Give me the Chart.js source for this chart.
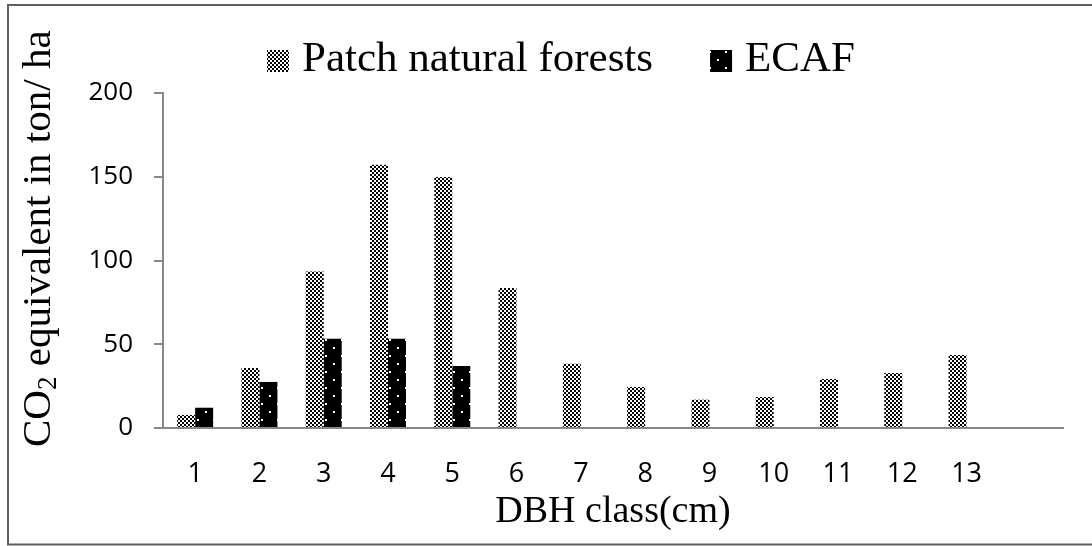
<!DOCTYPE html>
<html>
<head>
<meta charset="utf-8">
<script src="https://cdn.jsdelivr.net/npm/chart.js@4.4.1/dist/chart.umd.min.js"></script>
<style>
  html, body { margin: 0; padding: 0; background: #fff; overflow: hidden; }
  canvas { display: block; }
</style>
</head>
<body>
<canvas id="co2Chart" width="1092" height="546"></canvas>
<script>
// data
const dbhClasses = ['1', '2', '3', '4', '5', '6', '7', '8', '9', '10', '11', '12', '13', ''];
const patchForest = [7.8, 35.8, 93.5, 157.2, 149.9, 83.6, 38.4, 24.5, 16.9, 18.5, 29.3, 32.8, 43.6, null];
const ecaf = [12.1, 27.5, 53.3, 53.3, 37, null, null, null, null, null, null, null, null, null];
const yTicks = [0, 50, 100, 150, 200];
const seriesNames = ['Patch natural forests', 'ECAF'];
const yTitleParts = ['CO', '2', ' equivalent in ton/ ha'];
const xTitle = 'DBH class(cm)';

const axisGray = '#878787';
const serif = '"Liberation Serif", "Times New Roman", serif';
const sans = '"Open Sans", sans-serif';

// fill patterns like the excel ones
function checkerPattern() {
    const c = document.createElement('canvas');
    c.width = 4; c.height = 4;
    const g = c.getContext('2d');
    g.fillStyle = '#fff';
    g.fillRect(0, 0, 4, 4);
    g.fillStyle = '#000';
    g.fillRect(0, 0, 2, 2);
    g.fillRect(2, 2, 2, 2);
    return g.createPattern(c, 'repeat');
}

function dottedBlackPattern() {
    const c = document.createElement('canvas');
    c.width = 16; c.height = 16;
    const g = c.getContext('2d');
    g.fillStyle = '#000';
    g.fillRect(0, 0, 16, 16);
    g.fillStyle = '#fff';
    g.fillRect(5, 3, 2, 2);
    g.fillRect(13, 11, 2, 2);
    return g.createPattern(c, 'repeat');
}

const patchFill = checkerPattern();
const ecafFill = dottedBlackPattern();

// frame, legend and rotated y title (with a real subscript)
const decorations = {
    id: 'decorations',
    afterDraw(chart) {
        const ctx = chart.ctx;
        ctx.save();

        // outer frame (right side is off the picture)
        ctx.strokeStyle = '#5f5f5f';
        ctx.lineWidth = 2;
        ctx.beginPath();
        ctx.moveTo(1100, 5);
        ctx.lineTo(8, 5);
        ctx.lineTo(8, 544.5);
        ctx.lineTo(1100, 544.5);
        ctx.stroke();

        // legend
        ctx.font = '43px ' + serif;
        ctx.fillStyle = '#000';
        ctx.textBaseline = 'alphabetic';
        let x = 267;
        const fills = [patchFill, ecafFill];
        seriesNames.forEach((name, i) => {
            ctx.fillStyle = fills[i];
            ctx.fillRect(x, 50, 22, 22);
            ctx.fillStyle = '#000';
            ctx.fillText(name, x + 35, 71);
            x += 35 + ctx.measureText(name).width + 57;
        });

        // y axis title
        ctx.translate(50, 447);
        ctx.rotate(-Math.PI / 2);
        ctx.fillStyle = '#000';
        ctx.font = '41px ' + serif;
        ctx.fillText(yTitleParts[0], 0, 0);
        let w = ctx.measureText(yTitleParts[0]).width;
        ctx.font = '27px ' + serif;
        ctx.fillText(yTitleParts[1], w, 6);
        w += ctx.measureText(yTitleParts[1]).width;
        ctx.font = '41px ' + serif;
        ctx.fillText(yTitleParts[2], w, 0);

        ctx.restore();
    }
};

new Chart(document.getElementById('co2Chart'), {
    type: 'bar',
    data: {
        labels: dbhClasses,
        datasets: [
            {
                label: seriesNames[0],
                data: patchForest,
                backgroundColor: patchFill,
                borderWidth: 0,
                barPercentage: 1,
                categoryPercentage: 0.56
            },
            {
                label: seriesNames[1],
                data: ecaf,
                backgroundColor: ecafFill,
                borderWidth: 0,
                barPercentage: 1,
                categoryPercentage: 0.56
            }
        ]
    },
    options: {
        responsive: false,
        devicePixelRatio: 1,
        animation: false,
        layout: {
            padding: { top: 93, right: 29, bottom: 0, left: 0 }
        },
        plugins: {
            legend: { display: false },
            tooltip: { enabled: false }
        },
        scales: {
            x: {
                grid: { display: false },
                border: { color: axisGray, width: 2 },
                ticks: {
                    color: '#000',
                    padding: 22,
                    maxRotation: 0,
                    autoSkip: false,
                    font: { family: sans, size: 27 }
                },
                title: {
                    display: true,
                    text: xTitle,
                    color: '#000',
                    font: { family: serif, size: 38 },
                    padding: { top: 0, bottom: 11 }
                },
                afterFit: function(scale) {
                    scale.height = 118;
                }
            },
            y: {
                min: 0,
                max: 200,
                grid: {
                    drawOnChartArea: false,
                    drawTicks: true,
                    tickLength: 9,
                    color: axisGray,
                    lineWidth: 2
                },
                border: { color: axisGray, width: 2 },
                ticks: {
                    color: '#000',
                    padding: 21,
                    font: { family: sans, size: 26 }
                },
                afterBuildTicks: function(scale) {
                    scale.ticks = yTicks.map(v => ({ value: v }));
                },
                afterFit: function(scale) {
                    scale.width = 163;
                }
            }
        }
    },
    plugins: [decorations]
});
</script>
</body>
</html>
